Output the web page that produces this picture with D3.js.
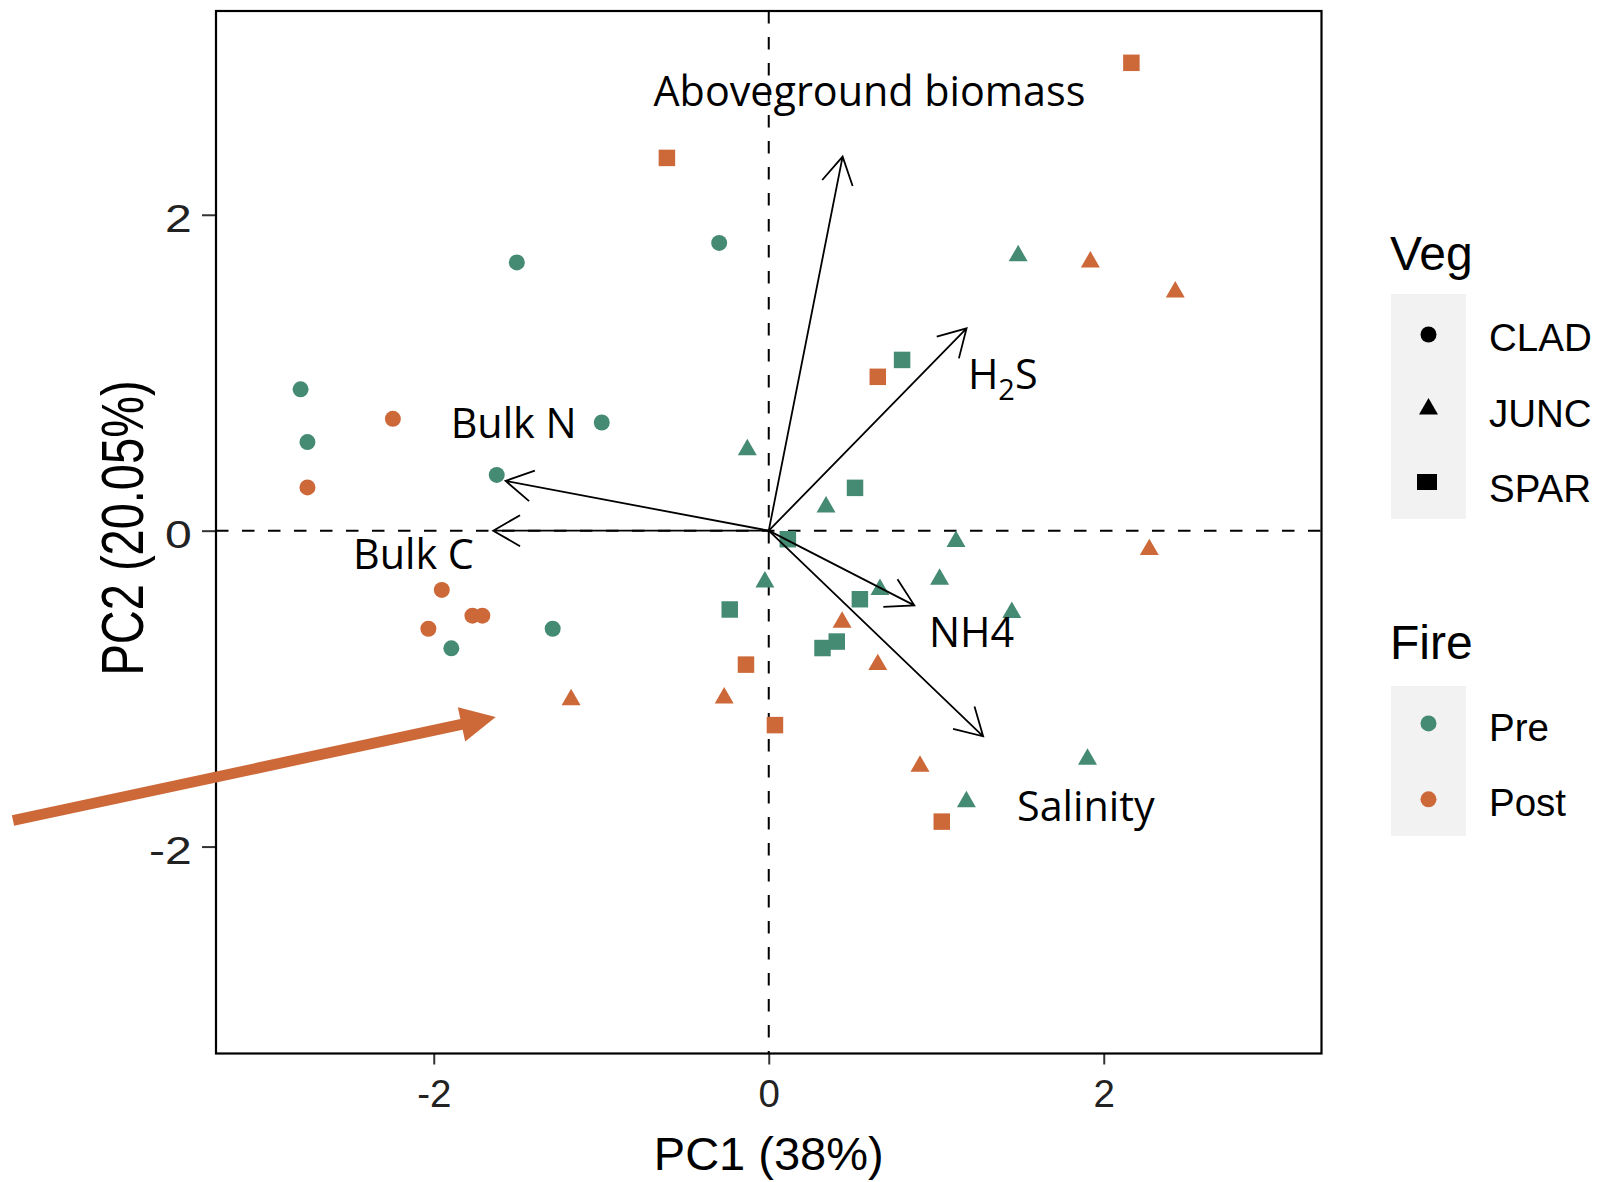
<!DOCTYPE html>
<html>
<head>
<meta charset="utf-8">
<script src="https://cdn.jsdelivr.net/npm/d3@7"></script>
<style>
  html, body { margin: 0; padding: 0; background: #ffffff; }
  svg { display: block; }
</style>
</head>
<body>
<svg id="chart" width="1604" height="1182"></svg>
<script>
// ---- PCA biplot data ----
const vegLevels = ["CLAD", "JUNC", "SPAR"];
const fireLevels = ["Pre", "Post"];

// sample scores, one entry per sample
const sampleVeg = [
  "SPAR","CLAD","CLAD","CLAD","CLAD","CLAD","CLAD","CLAD","CLAD","JUNC",
  "SPAR","JUNC","JUNC","JUNC","SPAR","SPAR","SPAR","JUNC","SPAR","JUNC",
  "JUNC","JUNC","JUNC","SPAR","JUNC","JUNC","SPAR","SPAR","JUNC","SPAR",
  "JUNC","JUNC","JUNC","SPAR","JUNC","CLAD","CLAD","CLAD","CLAD","CLAD",
  "CLAD","JUNC","JUNC","SPAR","SPAR"
];
const sampleFire = [
  "Post","Pre","Pre","Pre","Post","Pre","Post","Pre","Pre","Pre",
  "Post","Pre","Post","Post","Pre","Post","Pre","Pre","Pre","Pre",
  "Post","Pre","Pre","Pre","Pre","Post","Pre","Pre","Post","Post",
  "Post","Pre","Pre","Post","Pre","Post","Post","Post","Post","Pre",
  "Pre","Post","Post","Pre","Post"
];
const scorePC1 = [
  -0.608, -0.296, -1.504, -2.795, -2.244, -2.754, -2.754, -0.997, -1.624, -0.128,
   2.165,  1.489,  1.920,  2.427,  0.796,  0.651,  0.515,  0.342,  0.114,  1.118,
   2.272,  1.020,  0.664,  0.544,  1.451,  0.438,  0.406,  0.321,  0.651,  0.037,
   0.903,  1.903,  1.180,  1.033, -0.023, -1.952, -1.769, -1.710, -2.032, -1.895,
  -1.290, -1.180, -0.266, -0.233, -0.136
];
const scorePC2 = [
   2.360,  1.822,  1.698,  0.895,  0.708,  0.561,  0.274,  0.685,  0.353,  0.512,
   2.962,  1.740,  1.701,  1.511,  1.081,  0.974,  0.271,  0.150, -0.054, -0.069,
  -0.120, -0.307, -0.372, -0.434, -0.518, -0.580, -0.702, -0.743, -0.848, -1.231,
  -1.491, -1.447, -1.716, -1.842, -0.325, -0.375, -0.538, -0.538, -0.621, -0.745,
  -0.621, -1.070, -1.059, -0.499, -0.848
];

// variable loadings (arrows)
const loadingNames = ["Aboveground biomass", "H2S", "Bulk N", "Bulk C", "NH4", "Salinity"];
const loadingPC1 = [0.441, 1.181, -1.571, -1.645, 0.869, 1.280];
const loadingPC2 = [2.368, 1.281, 0.315, 0.000, -0.473, -1.302];

const tickValues = [-2, 0, 2];
const xTitle = "PC1 (38%)";
const yTitle = "PC2 (20.05%)";

// ---- layout ----
const panel = { left: 216, right: 1321.5, top: 11, bottom: 1053.5 };
const fireColour = d3.scaleOrdinal().domain(fireLevels).range(["#458B74", "#CD6839"]);
const axisFont = "'Liberation Sans', Arial, sans-serif";
const labelFont = "'Open Sans', 'Noto Sans', sans-serif";

const x = d3.scaleLinear().domain([-3.3, 3.3]).range([panel.left, panel.right]);
const y = d3.scaleLinear().domain([-3.31, 3.29]).range([panel.bottom, panel.top]);

const svg = d3.select("#chart");
svg.append("rect").attr("width", 1604).attr("height", 1182).attr("fill", "#ffffff");

// symbol per vegetation type
const markShape = {
  CLAD: d3.symbol().type(d3.symbolCircle).size(Math.PI * 8 * 8)(),
  JUNC: d3.symbol().type(d3.symbolTriangle).size(156)(),
  SPAR: d3.symbol().type(d3.symbolSquare).size(16.5 * 16.5)()
};

// zero reference lines
const plot = svg.append("g");
plot.append("line")
  .attr("x1", panel.left).attr("x2", panel.right)
  .attr("y1", y(0)).attr("y2", y(0))
  .attr("stroke", "#000").attr("stroke-width", 2).attr("stroke-dasharray", "12.5,13.5");
plot.append("line")
  .attr("x1", x(0)).attr("x2", x(0))
  .attr("y1", panel.top).attr("y2", panel.bottom)
  .attr("stroke", "#000").attr("stroke-width", 2).attr("stroke-dasharray", "12.5,13.5");

// sample points
const samples = scorePC1.map((v, i) => ({ pc1: v, pc2: scorePC2[i], veg: sampleVeg[i], fire: sampleFire[i] }));
plot.append("g").selectAll("path")
  .data(samples)
  .join("path")
  .attr("d", d => markShape[d.veg])
  .attr("transform", d => `translate(${x(d.pc1)},${y(d.pc2)})`)
  .attr("fill", d => fireColour(d.fire));

// loading arrows with open heads
const headLen = 31, headAngle = Math.PI / 6;
const loadings = loadingNames.map((n, i) => ({ name: n, pc1: loadingPC1[i], pc2: loadingPC2[i] }));
plot.append("g").selectAll("path")
  .data(loadings)
  .join("path")
  .attr("d", d => {
    const ox = x(0), oy = y(0), tx = x(d.pc1), ty = y(d.pc2);
    const back = Math.atan2(oy - ty, ox - tx);
    const a1 = back + headAngle, a2 = back - headAngle;
    return `M${ox},${oy}L${tx},${ty}` +
      `M${tx + headLen * Math.cos(a1)},${ty + headLen * Math.sin(a1)}L${tx},${ty}` +
      `L${tx + headLen * Math.cos(a2)},${ty + headLen * Math.sin(a2)}`;
  })
  .attr("fill", "none").attr("stroke", "#000").attr("stroke-width", 1.8);

// arrow labels (left edge / baseline, in PC units)
const labelAt = {
  "Aboveground biomass": [-0.688, 2.686],
  "H2S": [1.189, 0.895],
  "Bulk N": [-1.899, 0.586],
  "Bulk C": [-2.482, -0.244],
  "NH4": [0.956, -0.739],
  "Salinity": [1.482, -1.84]
};
// size the label font so the longest label spans its intended width
const probe = svg.append("text").attr("font-family", labelFont).attr("font-size", 100).text("Aboveground biomass");
const labelSize = 100 * 432 / probe.node().getComputedTextLength();
probe.remove();

const labels = plot.append("g").attr("font-family", labelFont).attr("font-size", labelSize).attr("fill", "#000");
loadings.forEach(d => {
  const [lx, ly] = labelAt[d.name];
  const t = labels.append("text").attr("x", x(lx)).attr("y", y(ly));
  if (d.name === "H2S") {
    t.append("tspan").text("H");
    t.append("tspan").attr("font-size", labelSize * 0.7).attr("dy", 11).text("2");
    t.append("tspan").attr("dy", -11).text("S");
  } else {
    t.text(d.name);
  }
});

// axes
const xAxis = svg.append("g")
  .attr("transform", `translate(0,${panel.bottom})`)
  .call(d3.axisBottom(x).tickValues(tickValues).tickSize(11).tickFormat(d => String(d)));
xAxis.select(".domain").remove();
xAxis.selectAll(".tick line").attr("stroke", "#333").attr("stroke-width", 2);
xAxis.selectAll(".tick text")
  .attr("y", 53.5).attr("dy", 0)
  .attr("font-family", axisFont).attr("font-size", 38.5).attr("fill", "#222");

const yAxis = svg.append("g")
  .attr("transform", `translate(${panel.left},0)`)
  .call(d3.axisLeft(y).tickValues(tickValues).tickSize(14).tickFormat(d => String(d)));
yAxis.select(".domain").remove();
yAxis.selectAll(".tick line").attr("stroke", "#333").attr("stroke-width", 2);
yAxis.selectAll(".tick text")
  .attr("x", 0).attr("dy", "0.43em")
  .attr("transform", "translate(-24.3,0) scale(1.25,1)")
  .attr("text-anchor", "end")
  .attr("font-family", axisFont).attr("font-size", 38.5).attr("fill", "#222");

// panel border
svg.append("rect")
  .attr("x", panel.left).attr("y", panel.top)
  .attr("width", panel.right - panel.left).attr("height", panel.bottom - panel.top)
  .attr("fill", "none").attr("stroke", "#000").attr("stroke-width", 2.2);

// axis titles
svg.append("text")
  .attr("x", (panel.left + panel.right) / 2).attr("y", 1170)
  .attr("text-anchor", "middle")
  .attr("font-family", axisFont).attr("font-size", 47).attr("fill", "#000")
  .text(xTitle);
svg.append("text")
  .attr("transform", "translate(143,528) rotate(-90) scale(1,1.25)")
  .attr("text-anchor", "middle")
  .attr("font-family", axisFont).attr("font-size", 47).attr("fill", "#000")
  .text(yTitle);

// ---- legends ----
const legend = svg.append("g").attr("font-family", axisFont).attr("fill", "#000");

legend.append("text").attr("x", 1390).attr("y", 270).attr("font-size", 48).text("Veg");
legend.append("rect").attr("x", 1391).attr("y", 294).attr("width", 75).attr("height", 225).attr("fill", "#F2F2F2");
const vegKeyY = [334.5, 409, 482];
const vegLabelY = [351, 426.7, 501.7];
vegLevels.forEach((v, i) => {
  if (v === "SPAR") {
    legend.append("rect").attr("x", 1417).attr("y", vegKeyY[i] - 8).attr("width", 20).attr("height", 16).attr("fill", "#000");
  } else {
    legend.append("path").attr("d", markShape[v]).attr("transform", `translate(1428.5,${vegKeyY[i]})`).attr("fill", "#000");
  }
  legend.append("text").attr("x", 1489).attr("y", vegLabelY[i]).attr("font-size", 38.5).text(v);
});

legend.append("text").attr("x", 1390).attr("y", 659).attr("font-size", 48).text("Fire");
legend.append("rect").attr("x", 1391).attr("y", 686).attr("width", 75).attr("height", 150).attr("fill", "#F2F2F2");
const fireKeyY = [723.4, 799.3];
const fireLabelY = [741.2, 815.5];
fireLevels.forEach((f, i) => {
  legend.append("path").attr("d", markShape.CLAD).attr("transform", `translate(1428.5,${fireKeyY[i]})`).attr("fill", fireColour(f));
  legend.append("text").attr("x", 1489).attr("y", fireLabelY[i]).attr("font-size", 38.5).text(f);
});

// highlight arrow pointing at the post-fire JUNC sample, in PC units
const pointerFrom = [-4.512, -1.835];
const pointerTo = [-1.630, -1.18];
(function drawPointer() {
  const sx = x(pointerFrom[0]), sy = y(pointerFrom[1]);
  const tx = x(pointerTo[0]), ty = y(pointerTo[1]);
  const len = Math.hypot(tx - sx, ty - sy);
  const ux = (tx - sx) / len, uy = (ty - sy) / len;
  const nx = -uy, ny = ux;
  const shaftHalf = 5.4, headHalf = 17.6, headLength = 35;
  const bx = tx - ux * headLength, by = ty - uy * headLength;
  const pts = [
    [sx + nx * shaftHalf, sy + ny * shaftHalf],
    [bx + nx * shaftHalf, by + ny * shaftHalf],
    [bx + nx * headHalf, by + ny * headHalf],
    [tx, ty],
    [bx - nx * headHalf, by - ny * headHalf],
    [bx - nx * shaftHalf, by - ny * shaftHalf],
    [sx - nx * shaftHalf, sy - ny * shaftHalf]
  ];
  svg.append("path").attr("d", d3.line()(pts) + "Z").attr("fill", "#CD6839");
})();
</script>
</body>
</html>
